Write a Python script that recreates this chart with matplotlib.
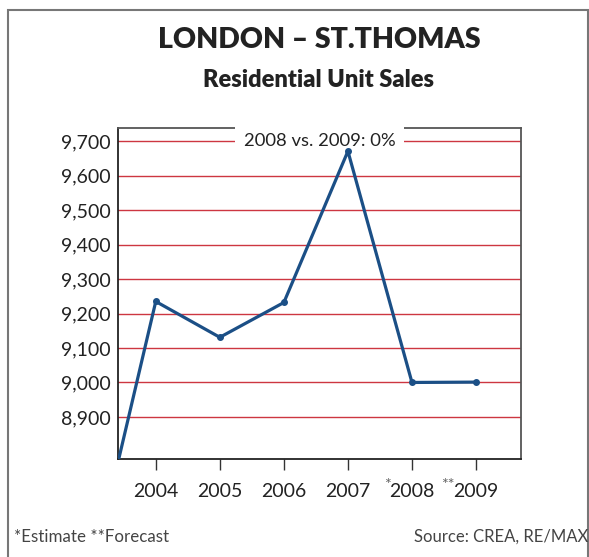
import matplotlib.pyplot as plt
from matplotlib.patches import Rectangle

# values
years = [2003, 2004, 2005, 2006, 2007, 2008, 2009]
sales = [8444, 9235, 9131, 9232, 9671, 9000, 9001]
tick_years = [2004, 2005, 2006, 2007, 2008, 2009]
tick_labels = ['2004', '2005', '2006', '2007', '2008', '2009']
tick_marks = ['', '', '', '', '*', '**']
y_ticks = [8900, 9000, 9100, 9200, 9300, 9400, 9500, 9600, 9700]

plt.rcParams['font.family'] = ['Lato', 'DejaVu Sans']

fig = plt.figure(figsize=(5.89, 5.57), dpi=100)
ax = fig.add_axes([0.2003, 0.176, 0.684, 0.594])

# outer frame
fig.patches.append(Rectangle((8 / 589, -0.05), 580 / 589, 1.05 - 10 / 557,
                             transform=fig.transFigure, fill=False,
                             edgecolor='#777777', linewidth=1.5))

for y in y_ticks:
    ax.axhline(y, color='#c8202c', linewidth=1.0, alpha=0.9, zorder=1)

ax.plot(years, sales, color='#1b4f86', linewidth=2.3, marker='o',
        markersize=4, zorder=5, clip_on=True)

ax.set_xlim(2003.41, 2009.70)
ax.set_ylim(8778, 9738)
ax.set_yticks(y_ticks)
ax.set_yticklabels([f'{v:,}' for v in y_ticks], fontsize=14, color='#222222')
ax.set_xticks(tick_years)
ax.set_xticklabels(tick_labels, fontsize=14, color='#222222')
ax.tick_params(axis='y', length=0, pad=5)
ax.tick_params(axis='x', length=8, width=1, color='#333333', pad=9, direction='out')

for side in ['left', 'bottom']:
    ax.spines[side].set_color('#222222')
    ax.spines[side].set_linewidth(1.3)
for side in ['right', 'top']:
    ax.spines[side].set_color('#555555')
    ax.spines[side].set_linewidth(1.3)

# asterisks in front of estimate/forecast years
for yr, mark in zip(tick_years, tick_marks):
    if mark:
        ax.annotate(mark, xy=(yr, 0), xycoords=('data', 'axes fraction'),
                    xytext=(-15.5, -19), textcoords='offset points',
                    ha='right', va='center', fontsize=11.5, color='#666666')

ax.text(0.5, 9700, '2008 vs. 2009: 0%', transform=ax.get_yaxis_transform(),
        ha='center', va='center', fontsize=13.3, color='#222222', zorder=4,
        bbox=dict(facecolor='white', edgecolor='none', pad=6))

fig.text(0.5415, 1 - 40 / 557, 'LONDON – ST.THOMAS', ha='center', va='center',
         fontsize=20.5, fontweight='heavy', color='#222222')
fig.text(0.5415, 1 - 80 / 557, 'Residential Unit Sales', ha='center', va='center',
         fontsize=17, fontweight='heavy', color='#222222')

fig.text(14 / 589, 1 - 537 / 557, '*Estimate **Forecast', ha='left', va='center',
         fontsize=12.2, color='#444444')
fig.text(588 / 589, 1 - 537 / 557, 'Source: CREA, RE/MAX', ha='right', va='center',
         fontsize=12, color='#444444')

fig.savefig('out.png', dpi=100)
